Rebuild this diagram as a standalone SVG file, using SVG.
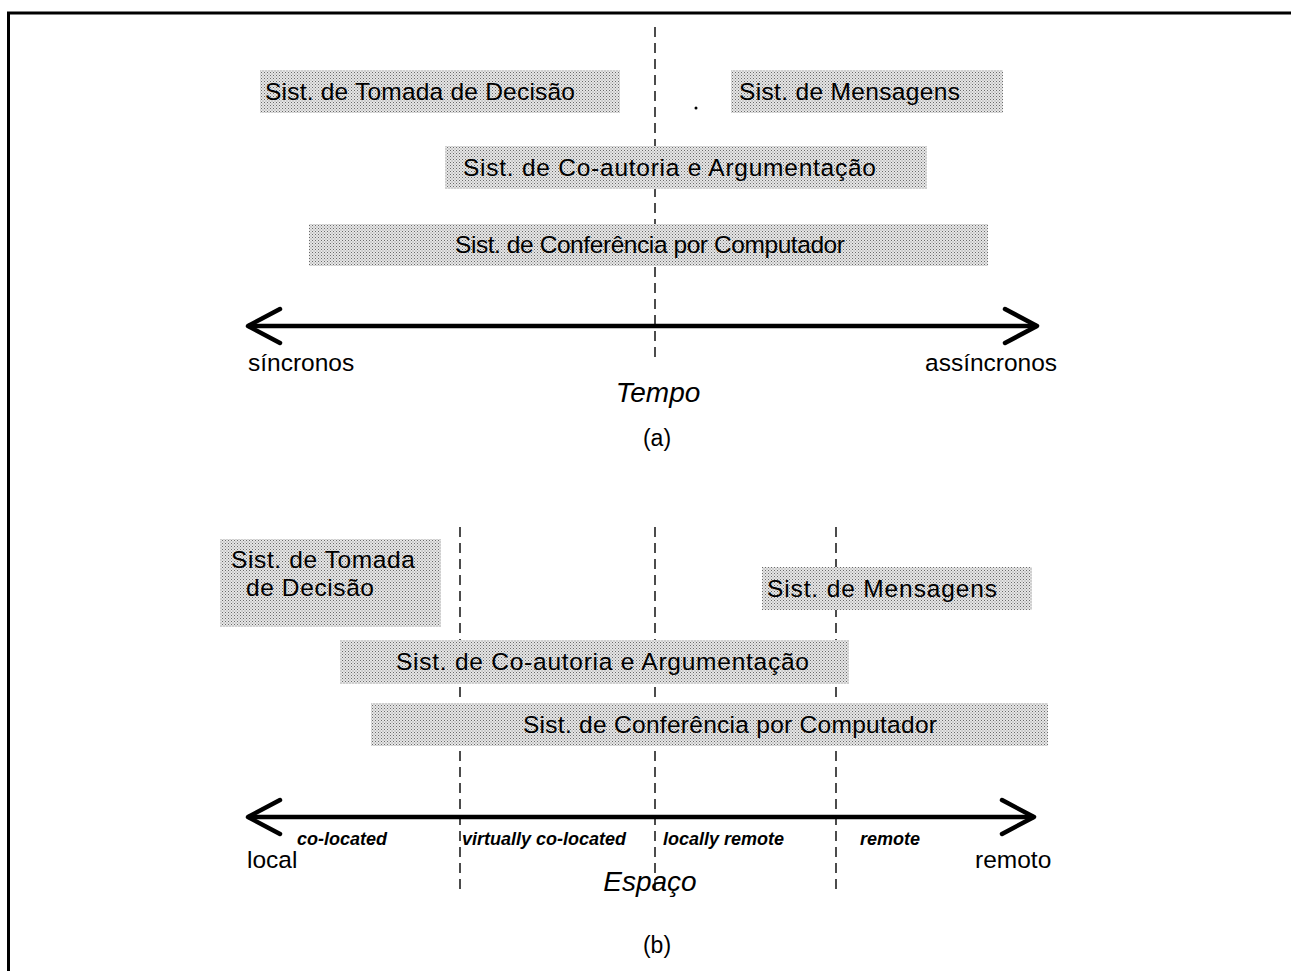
<svg xmlns="http://www.w3.org/2000/svg" width="1291" height="971" viewBox="0 0 1291 971">
<defs>
<pattern id="dots" width="3" height="3" patternUnits="userSpaceOnUse">
<rect width="3" height="3" fill="#e6e6e6"/>
<rect x="0" y="0" width="1" height="1" fill="#6a6a6a"/>
<rect x="1.5" y="1.5" width="1" height="1" fill="#8a8a8a"/>
</pattern>
<marker id="chev" viewBox="0 0 40 40" refX="37" refY="20" markerWidth="40" markerHeight="40" markerUnits="userSpaceOnUse" orient="auto-start-reverse">
<path d="M5 3 L37 20 L5 37" fill="none" stroke="#000" stroke-width="4.5" stroke-linecap="round" stroke-linejoin="round"/>
</marker>
<style>
.box{fill:url(#dots);stroke:none}
.lbl{font-family:"Liberation Sans",Arial,sans-serif;font-size:24.5px;fill:#000}
.axis{font-family:"Liberation Sans",Arial,sans-serif;font-size:24.5px;fill:#000}
.ttl{font-family:"Liberation Sans",Arial,sans-serif;font-size:28px;font-style:italic;fill:#000}
.cap{font-family:"Liberation Sans",Arial,sans-serif;font-size:23px;fill:#000}
.zone{font-family:"Liberation Sans",Arial,sans-serif;font-size:18px;font-style:italic;font-weight:bold;fill:#000}
.dash{stroke:#000;stroke-width:1.4;stroke-dasharray:10 6;fill:none}
.axisline{stroke:#000;stroke-width:4.5;fill:none}
</style>
</defs>
<rect width="1291" height="971" fill="#fff"/>
<path d="M8.5 971 V13 H1291" fill="none" stroke="#000" stroke-width="3"/>

<g id="connectors">
<line class="dash" x1="655" y1="27" x2="655" y2="360"/>
<line class="axisline" x1="248" y1="326" x2="1037" y2="326" marker-start="url(#chev)" marker-end="url(#chev)"/>
<line class="dash" x1="460" y1="527" x2="460" y2="890"/>
<line class="dash" x1="655" y1="527" x2="655" y2="890"/>
<line class="dash" x1="836" y1="527" x2="836" y2="890"/>
<line class="axisline" x1="248" y1="817" x2="1034" y2="817" marker-start="url(#chev)" marker-end="url(#chev)"/>
</g>

<g id="a-decisao"><rect class="box" x="260" y="70" width="360" height="43"/><text class="lbl" x="265" y="100" textLength="310" lengthAdjust="spacing">Sist. de Tomada de Decisão</text></g>
<g id="a-mensagens"><rect class="box" x="731" y="70" width="272" height="43"/><text class="lbl" x="739" y="100" textLength="221" lengthAdjust="spacing">Sist. de Mensagens</text></g>
<g id="a-coautoria"><rect class="box" x="445" y="146" width="482" height="43"/><text class="lbl" x="463" y="176" textLength="413" lengthAdjust="spacing">Sist. de Co-autoria e Argumentação</text></g>
<g id="a-conferencia"><rect class="box" x="309" y="224" width="679" height="42"/><text class="lbl" x="455" y="253" textLength="390" lengthAdjust="spacing">Sist. de Conferência por Computador</text></g>
<circle cx="696" cy="108" r="1.5" fill="#000"/>

<g id="a-labels">
<text class="axis" x="248" y="371">síncronos</text>
<text class="axis" x="925" y="371">assíncronos</text>
<text class="ttl" x="658" y="402" text-anchor="middle">Tempo</text>
<text class="cap" x="657" y="446" text-anchor="middle">(a)</text>
</g>

<g id="b-decisao"><rect class="box" x="220" y="539" width="221" height="88"/><text class="lbl" x="231" y="568" textLength="184" lengthAdjust="spacing">Sist. de Tomada</text><text class="lbl" x="246" y="596" textLength="128" lengthAdjust="spacing">de Decisão</text></g>
<g id="b-mensagens"><rect class="box" x="762" y="567" width="270" height="43"/><text class="lbl" x="767" y="597" textLength="230" lengthAdjust="spacing">Sist. de Mensagens</text></g>
<g id="b-coautoria"><rect class="box" x="340" y="640" width="509" height="44"/><text class="lbl" x="396" y="670" textLength="413" lengthAdjust="spacing">Sist. de Co-autoria e Argumentação</text></g>
<g id="b-conferencia"><rect class="box" x="371" y="703" width="677" height="43"/><text class="lbl" x="523" y="733" textLength="414" lengthAdjust="spacing">Sist. de Conferência por Computador</text></g>

<g id="b-labels">
<text class="zone" x="342" y="845" text-anchor="middle">co-located</text>
<text class="zone" x="462" y="845">virtually co-located</text>
<text class="zone" x="663" y="845">locally remote</text>
<text class="zone" x="860" y="845">remote</text>
<text class="axis" x="247" y="868">local</text>
<text class="axis" x="975" y="868">remoto</text>
<text class="ttl" x="650" y="891" text-anchor="middle">Espaço</text>
<text class="cap" x="657" y="953" text-anchor="middle">(b)</text>
</g>
</svg>
